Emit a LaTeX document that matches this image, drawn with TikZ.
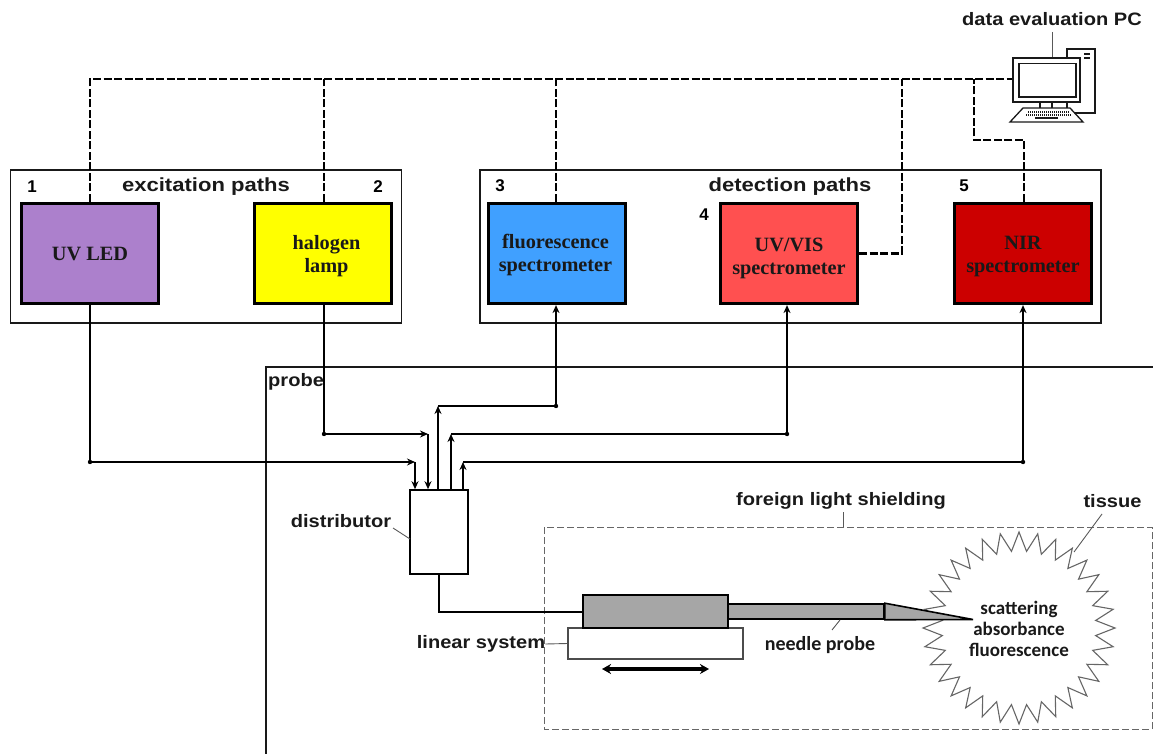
\documentclass[tikz,border=0pt]{standalone}
\usepackage{fontspec}
\setmainfont{Liberation Sans}
\newfontfamily\serifb{Liberation Serif}
\newfontfamily\calib{Carlito}
\newfontfamily\widea[FakeStretch=1.16]{Liberation Sans}
\newfontfamily\wideb[FakeStretch=1.115]{Liberation Sans}
\usetikzlibrary{arrows.meta}
\definecolor{uvcol}{RGB}{172,128,204}
\definecolor{hacol}{RGB}{255,255,0}
\definecolor{flcol}{RGB}{64,160,255}
\definecolor{vicol}{RGB}{255,80,80}
\definecolor{nicol}{RGB}{204,0,0}
\definecolor{greycol}{RGB}{166,166,166}
\definecolor{inkcol}{RGB}{25,25,25}
\tikzset{
  frame/.style={draw=inkcol,line width=1.2pt},
  devbox/.style={draw=black,line width=3.2pt,minimum width=137pt,minimum height=100pt,inner sep=0pt},
  devtext/.style={inner sep=0pt,align=center,text=inkcol,font=\serifb\fontsize{20.3}{23}\selectfont\bfseries},
  head/.style={font=\widea\fontsize{19}{22}\selectfont\bfseries,inner sep=0pt,text=inkcol},
  num/.style={font=\fontsize{17}{19}\selectfont\bfseries,inner sep=0pt,text=black},
  lab/.style={font=\wideb\fontsize{18}{21}\selectfont\bfseries,inner sep=0pt,text=inkcol},
  cal/.style={font=\calib\fontsize{19}{21}\selectfont\bfseries,inner sep=0pt,text=inkcol,align=center},
  dataline/.style={draw=black,line width=2.2pt,dash pattern=on 8pt off 2.5pt},
  opt/.style={draw=black,line width=1.6pt},
  tip/.style={opt,-{Stealth[length=8pt,width=7pt]}},
  leader/.style={draw=black!65,line width=0.9pt},
  pcline/.style={draw=inkcol,line width=1.3pt,fill=white},
}
\begin{document}
\begin{tikzpicture}[x=1pt,y=-1pt]
\useasboundingbox (0,0) rectangle (1153,754);
% frames
\node[frame,minimum width=391pt,minimum height=153pt,inner sep=0pt] (excf) at (206,246.5) {};
\node[frame,minimum width=621pt,minimum height=153pt,inner sep=0pt] (detf) at (790.5,246.5) {};
\coordinate (prA) at (266,754);\coordinate (prB) at (266,367);\coordinate (prC) at (1153,367);
\draw[frame] (prA) -- (prB) -- (prC);
% devices
\node[devbox,fill=uvcol,label={[devtext,yshift=-1pt]center:UV LED}] (uv) at (90,253.5) {};
\node[devbox,fill=hacol,label={[devtext,xshift=3.5pt,yshift=-2.5pt]center:halogen\\lamp}] (ha) at (323,253.5) {};
\node[devbox,fill=flcol,label={[devtext,xshift=-1.5pt,yshift=-1.5pt]center:fluorescence\\spectrometer}] (fl) at (557,253.5) {};
\node[devbox,fill=vicol,label={[devtext,yshift=-4.5pt]center:UV/VIS\\spectrometer}] (vi) at (789,253.5) {};
\node[devbox,fill=nicol,label={[devtext,yshift=-3.5pt]center:NIR\\spectrometer}] (ni) at (1023,253.5) {};
% labels
\node[head] (t1) at (206,187) {excitation paths};
\node[head] (t2) at (790,187) {detection paths};
\node[num] (n1) at (32,187) {1};
\node[num] (n2) at (378,187) {2};
\node[num] (n3) at (500,186) {3};
\node[num] (n4) at (704,215) {4};
\node[num] (n5) at (964,186) {5};
\node[lab] (tpc) at (1052,19) {data evaluation PC};
\node[lab,anchor=west] (tpr) at (268,382) {probe};
\node[lab] (tdi) at (341,521) {distributor};
\node[lab] (tfo) at (841,501) {foreign light shielding};
\node[lab] (tti) at (1112.5,501) {tissue};
\node[lab] (tli) at (481,644) {linear system};
\node[cal,font=\calib\fontsize{20}{22}\selectfont\bfseries] (tne) at (820,645) {needle probe};
% computer
\draw[pcline] (1067,49) rectangle (1095,113);
\draw[inkcol,line width=1.2pt] (1084,54)--(1090,54) (1084,58)--(1090,58);
\draw[pcline] (1023,108) -- (1070,108) -- (1083,122) -- (1010,122) -- cycle;
\draw[inkcol,line width=1.2pt,dash pattern=on 1pt off 1pt] (1028,112)--(1069,112) (1026,115)--(1071,115);
\draw[inkcol,line width=1.4pt] (1035,118)--(1058,118);
\draw[inkcol,line width=1.1pt] (1040,102)--(1040,108) (1052,102)--(1052,108) (1067,102)--(1067,108);
\node[pcline,minimum width=67pt,minimum height=44pt,inner sep=0pt] (mon) at (1046.5,80) {};
\draw[inkcol,line width=1.2pt] (1019,63.5) rectangle (1076,97);
\coordinate (pcl) at (1052,32);
\draw[leader] (pcl) -- (pcl |- mon.north);
% data lines
\coordinate (dA) at (90,79);\coordinate (dB) at (324,79);\coordinate (dC) at (556,79);
\coordinate (dD) at (902,79);\coordinate (dE) at (974,79);
\coordinate (dF) at (974,140);\coordinate (dG) at (1024,140);\coordinate (dH) at (902,253.5);
\draw[dataline] (uv.north -| dA) -- (dA) -- (mon.west |- dA);
\draw[dataline] (ha.north -| dB) -- (dB);
\draw[dataline] (fl.north -| dC) -- (dC);
\draw[dataline] (vi.east) -- (dH) -- (dD);
\draw[dataline] (ni.north -| dG) -- (dG) -- (dF) -- (dE);
% tissue
\draw[draw=black!60,line width=1.1pt,fill=white,line join=miter]
  plot[samples at={0,...,63}] ({1019+(mod(\x,2)==0?96:77)*cos(\x*5.625)},{628+(mod(\x,2)==0?96:77)*sin(\x*5.625)}) -- cycle;
\node[cal] (tsc) at (1019,629) {scattering\\absorbance\\fluorescence};
% shield
\draw[draw=black!60,line width=1pt,dash pattern=on 7pt off 3pt] (544,527) rectangle (1152,729);
% distributor
\node[draw=black,line width=1.6pt,fill=white,minimum width=58pt,minimum height=84pt,inner sep=0pt] (dist) at (439,532) {};
\coordinate (a1) at (90,462);\coordinate (a2) at (415,462);
\coordinate (b1) at (324,434);\coordinate (b2) at (428,434);
\coordinate (c1) at (556,406);\coordinate (c2) at (438,406);
\coordinate (d1) at (787,434);\coordinate (d2) at (451,434);
\coordinate (e1) at (1023,462);\coordinate (e2) at (463,462);
\draw[opt] (uv.south -| a1) -- (a1);
\draw[tip] (a1) -- (a2);
\draw[tip] (a2) -- (a2 |- dist.north);
\draw[opt] (ha.south -| b1) -- (b1);
\draw[tip] (b1) -- (b2);
\draw[tip] (b2) -- (b2 |- dist.north);
\draw[tip] (c2 |- dist.north) -- (c2);
\draw[opt] (c2) -- (c1);
\draw[tip] (c1) -- (fl.south -| c1);
\draw[tip] (d2 |- dist.north) -- (d2);
\draw[opt] (d2) -- (d1);
\draw[tip] (d1) -- (vi.south -| d1);
\draw[tip] (e2 |- dist.north) -- (e2);
\draw[opt] (e2) -- (e1);
\draw[tip] (e1) -- (ni.south -| e1);
\fill[black] (a1) circle (2.2pt) (b1) circle (2.2pt) (c1) circle (2.2pt) (d1) circle (2.2pt) (e1) circle (2.2pt);
% probe assembly
\node[draw=black!70,line width=1.2pt,fill=white,minimum width=175pt,minimum height=31pt,inner sep=0pt] (lin) at (655.5,643.5) {};
\node[draw=black,line width=1.6pt,fill=greycol,minimum width=145pt,minimum height=33pt,inner sep=0pt] (blk) at (655.5,611.5) {};
\node[draw=black,line width=1.6pt,fill=greycol,minimum width=156pt,minimum height=15pt,inner sep=0pt] (ndl) at (806,611.5) {};
\coordinate (tipp) at (973,619.5);
\draw[black,line width=1.6pt,fill=greycol,line join=miter] (ndl.north east) -- (tipp) -- (ndl.south east) -- cycle;
\coordinate (bend) at (439,612);
\draw[draw=black,line width=1.6pt] (dist.south) -- (bend) -- (blk.west |- bend);
\coordinate (trA) at (602,669);\coordinate (trB) at (709,669);
\draw[black,line width=3.2pt,{Stealth[length=9pt,width=10pt]}-{Stealth[length=9pt,width=10pt]}] (trA) -- (trB);
% leaders
\coordinate (lA) at (393,528);\coordinate (lB) at (410,539);
\draw[leader] (lA) -- (lB);
\coordinate (lC) at (843,512);\draw[leader] (lC) -- (843,527);
\coordinate (lD) at (1102,514);\coordinate (lE) at (1074,552);\draw[leader] (lD) -- (lE);
\coordinate (lF) at (840,620);\coordinate (lG) at (832,630);\draw[leader] (lF) -- (lG);
\draw[leader] (tli.east) -- (lin.west);
\end{tikzpicture}
\end{document}
